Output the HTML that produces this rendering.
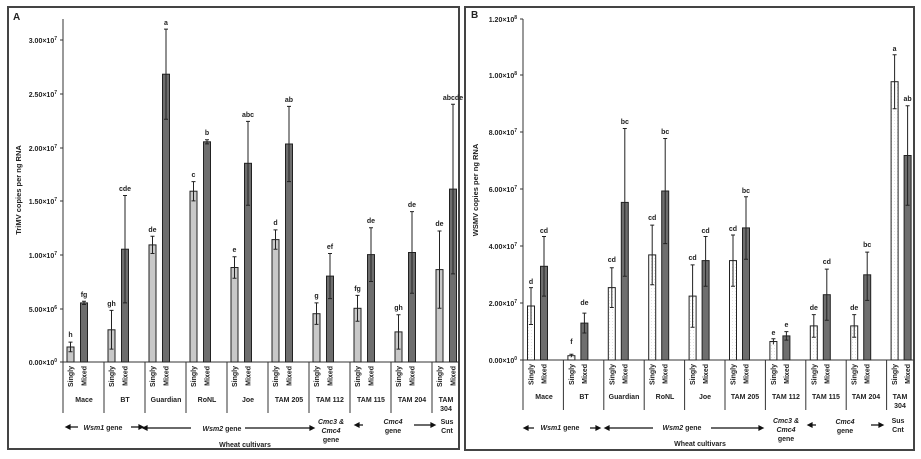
<!DOCTYPE html><html><head><meta charset="utf-8"><style>body{margin:0;background:#fff}svg{display:block}text{font-family:"Liberation Sans",sans-serif;font-weight:bold;fill:#222}</style></head><body>
<svg width="921" height="459" viewBox="0 0 921 459" xmlns="http://www.w3.org/2000/svg">
<defs><pattern id="dots" width="3" height="3" patternUnits="userSpaceOnUse"><rect width="3" height="3" fill="#fff"/><rect width="1" height="1" fill="#e4e4e4"/></pattern></defs>
<rect x="8" y="7" width="451" height="442" fill="none" stroke="#444" stroke-width="2"/>
<rect x="465" y="7" width="449" height="443" fill="none" stroke="#444" stroke-width="2"/>
<text x="13" y="20" font-size="10">A</text><text x="471" y="18" font-size="10">B</text>
<g stroke="#333" stroke-width="1" fill="none">
<path d="M63 19V413M63 362H459"/>
<path d="M60 40h3M60 94h3M60 148h3M60 201h3M60 255h3M60 309h3M60 362h3"/>
<path d="M104 362V413M145 362V413M186 362V413M227 362V413M268 362V413M309 362V413M350 362V413M391 362V413M432 362V413"/>
</g>
<g font-size="7" text-anchor="end">
<text x="57" y="43">3.00×10<tspan font-size="5" dy="-3">7</tspan></text>
<text x="57" y="97">2.50×10<tspan font-size="5" dy="-3">7</tspan></text>
<text x="57" y="151">2.00×10<tspan font-size="5" dy="-3">7</tspan></text>
<text x="57" y="204">1.50×10<tspan font-size="5" dy="-3">7</tspan></text>
<text x="57" y="258">1.00×10<tspan font-size="5" dy="-3">7</tspan></text>
<text x="57" y="312">5.00×10<tspan font-size="5" dy="-3">6</tspan></text>
<text x="57" y="365">0.00×10<tspan font-size="5" dy="-3">0</tspan></text>
</g>
<text transform="translate(21,190) rotate(-90)" font-size="7.5" text-anchor="middle">TriMV copies per ng RNA</text>
<g stroke="#222" stroke-width="1">
<g fill="#c8c8c8">
<rect x="67" y="347" width="7" height="15"/><rect x="108" y="329.8" width="7" height="32.2"/><rect x="149" y="244.9" width="7" height="117.1"/><rect x="190" y="191.2" width="7" height="170.8"/><rect x="231" y="267.5" width="7" height="94.5"/><rect x="272" y="239.6" width="7" height="122.4"/><rect x="313" y="313.7" width="7" height="48.3"/><rect x="354" y="308.3" width="7" height="53.7"/><rect x="395" y="331.9" width="7" height="30.1"/><rect x="436" y="269.6" width="7" height="92.4"/>
</g>
<g fill="#6e6e6e">
<rect x="80.5" y="302.9" width="7" height="59.1"/><rect x="121.5" y="249.2" width="7" height="112.8"/><rect x="162.5" y="74.2" width="7" height="287.8"/><rect x="203.5" y="141.8" width="7" height="220.2"/><rect x="244.5" y="163.3" width="7" height="198.7"/><rect x="285.5" y="144" width="7" height="218"/><rect x="326.5" y="276.1" width="7" height="85.9"/><rect x="367.5" y="254.6" width="7" height="107.4"/><rect x="408.5" y="252.5" width="7" height="109.5"/><rect x="449.5" y="189.1" width="7" height="172.9"/>
</g>
<path fill="none" d="M70.5 342.1V351.8M68.5 342.1h4M68.5 351.8h4M84 301.3V304.5M82 301.3h4M82 304.5h4M111.5 310.4V349.1M109.5 310.4h4M109.5 349.1h4M125 195.5V302.9M123 195.5h4M123 302.9h4M152.5 236.3V253.5M150.5 236.3h4M150.5 253.5h4M166 29.1V119.3M164 29.1h4M164 119.3h4M193.5 181.6V200.9M191.5 181.6h4M191.5 200.9h4M207 139.7V143.9M205 139.7h4M205 143.9h4M234.5 256.7V278.2M232.5 256.7h4M232.5 278.2h4M248 121.4V205.2M246 121.4h4M246 205.2h4M275.5 229.9V249.2M273.5 229.9h4M273.5 249.2h4M289 106.4V181.6M287 106.4h4M287 181.6h4M316.5 302.9V324.4M314.5 302.9h4M314.5 324.4h4M330 253.5V298.6M328 253.5h4M328 298.6h4M357.5 295.4V321.2M355.5 295.4h4M355.5 321.2h4M371 227.8V281.5M369 227.8h4M369 281.5h4M398.5 314.7V349.1M396.5 314.7h4M396.5 349.1h4M412 211.6V293.3M410 211.6h4M410 293.3h4M439.5 231V308.3M437.5 231h4M437.5 308.3h4M453 104.2V273.9M451 104.2h4M451 273.9h4"/>
</g>
<g font-size="7" text-anchor="middle">
<text x="70.5" y="337">h</text><text x="84" y="297">fg</text><text x="111.5" y="306">gh</text><text x="125" y="191">cde</text><text x="152.5" y="232">de</text><text x="166" y="25">a</text><text x="193.5" y="177">c</text><text x="207" y="135">b</text><text x="234.5" y="252">e</text><text x="248" y="117">abc</text><text x="275.5" y="225">d</text><text x="289" y="102">ab</text><text x="316.5" y="298">g</text><text x="330" y="249">ef</text><text x="357.5" y="291">fg</text><text x="371" y="223">de</text><text x="398.5" y="310">gh</text><text x="412" y="207">de</text><text x="439.5" y="226">de</text><text x="453" y="100">abcde</text>
</g>
<g font-size="7" text-anchor="end">
<text transform="translate(73,366) rotate(-90)">Singly</text><text transform="translate(86.5,366) rotate(-90)">Mixed</text>
<text transform="translate(114,366) rotate(-90)">Singly</text><text transform="translate(127.5,366) rotate(-90)">Mixed</text>
<text transform="translate(155,366) rotate(-90)">Singly</text><text transform="translate(168.5,366) rotate(-90)">Mixed</text>
<text transform="translate(196,366) rotate(-90)">Singly</text><text transform="translate(209.5,366) rotate(-90)">Mixed</text>
<text transform="translate(237,366) rotate(-90)">Singly</text><text transform="translate(250.5,366) rotate(-90)">Mixed</text>
<text transform="translate(278,366) rotate(-90)">Singly</text><text transform="translate(291.5,366) rotate(-90)">Mixed</text>
<text transform="translate(319,366) rotate(-90)">Singly</text><text transform="translate(332.5,366) rotate(-90)">Mixed</text>
<text transform="translate(360,366) rotate(-90)">Singly</text><text transform="translate(373.5,366) rotate(-90)">Mixed</text>
<text transform="translate(401,366) rotate(-90)">Singly</text><text transform="translate(414.5,366) rotate(-90)">Mixed</text>
<text transform="translate(442,366) rotate(-90)">Singly</text><text transform="translate(455.5,366) rotate(-90)">Mixed</text>
</g>
<g font-size="7" text-anchor="middle">
<text x="84" y="402">Mace</text><text x="125" y="402">BT</text><text x="166" y="402">Guardian</text><text x="207" y="402">RoNL</text><text x="248" y="402">Joe</text><text x="289" y="402">TAM 205</text><text x="330" y="402">TAM 112</text><text x="371" y="402">TAM 115</text><text x="412" y="402">TAM 204</text><text x="446" y="402">TAM</text><text x="446" y="411">304</text>
<text x="103" y="430"><tspan font-style="italic">Wsm1</tspan> gene</text>
<text x="222" y="431"><tspan font-style="italic">Wsm2</tspan> gene</text>
<text x="331" y="424" font-style="italic">Cmc3 &amp;</text><text x="331" y="433" font-style="italic">Cmc4</text><text x="331" y="442">gene</text>
<text x="393" y="424" font-style="italic">Cmc4</text><text x="393" y="433">gene</text>
<text x="447" y="424">Sus</text><text x="447" y="433">Cnt</text>
<text x="245" y="447">Wheat cultivars</text>
</g>
<g stroke="#111" stroke-width="1.2" fill="#111">
<path d="M68 427h10M131 427h10M146 428h45M245 428h68M357 425h6M414 425h20"/>
<path d="M66 427l4-2v4zM143 427l-4-2v4zM143 428l4-2v4zM314 428l-4-2v4zM355 425l4-2v4zM435 425l-4-2v4z"/>
</g>
<g stroke="#333" stroke-width="1" fill="none">
<path d="M523 19V410M523 360H914"/>
<path d="M520 19h3M520 75h3M520 132h3M520 189h3M520 246h3M520 303h3M520 360h3"/>
<path d="M563.4 360V410M603.8 360V410M644.2 360V410M684.6 360V410M725 360V410M765.4 360V410M805.8 360V410M846.2 360V410M886.6 360V410"/>
</g>
<g font-size="7" text-anchor="end">
<text x="517" y="22">1.20×10<tspan font-size="5" dy="-3">8</tspan></text>
<text x="517" y="78">1.00×10<tspan font-size="5" dy="-3">8</tspan></text>
<text x="517" y="135">8.00×10<tspan font-size="5" dy="-3">7</tspan></text>
<text x="517" y="192">6.00×10<tspan font-size="5" dy="-3">7</tspan></text>
<text x="517" y="249">4.00×10<tspan font-size="5" dy="-3">7</tspan></text>
<text x="517" y="306">2.00×10<tspan font-size="5" dy="-3">7</tspan></text>
<text x="517" y="363">0.00×10<tspan font-size="5" dy="-3">0</tspan></text>
</g>
<text transform="translate(478,190) rotate(-90)" font-size="7.5" text-anchor="middle">WSMV copies per ng RNA</text>
<g stroke="#222" stroke-width="1">
<g fill="url(#dots)">
<rect x="527.5" y="306" width="7" height="54"/><rect x="567.9" y="355.7" width="7" height="4.3"/><rect x="608.3" y="287.6" width="7" height="72.4"/><rect x="648.7" y="254.9" width="7" height="105.1"/><rect x="689.1" y="296.1" width="7" height="63.9"/><rect x="729.5" y="260.6" width="7" height="99.4"/><rect x="769.9" y="341.5" width="7" height="18.5"/><rect x="810.3" y="325.9" width="7" height="34.1"/><rect x="850.7" y="325.9" width="7" height="34.1"/><rect x="891.1" y="81.7" width="7" height="278.3"/>
</g>
<g fill="#6e6e6e">
<rect x="540.5" y="266.3" width="7" height="93.7"/><rect x="580.9" y="323.1" width="7" height="36.9"/><rect x="621.3" y="202.4" width="7" height="157.6"/><rect x="661.7" y="191" width="7" height="169"/><rect x="702.1" y="260.6" width="7" height="99.4"/><rect x="742.5" y="227.9" width="7" height="132.1"/><rect x="782.9" y="335.9" width="7" height="24.1"/><rect x="823.3" y="294.7" width="7" height="65.3"/><rect x="863.7" y="274.8" width="7" height="85.2"/><rect x="904.1" y="155.5" width="7" height="204.5"/>
</g>
<path fill="none" d="M531 287.6V324.5M529 287.6h4M529 324.5h4M544 236.5V296.1M542 236.5h4M542 296.1h4M571.4 354.3V357.2M569.4 354.3h4M584.4 313.1V333M582.4 313.1h4M582.4 333h4M611.8 267.7V307.5M609.8 267.7h4M609.8 307.5h4M624.8 128.5V276.2M622.8 128.5h4M622.8 276.2h4M652.2 225.1V284.7M650.2 225.1h4M650.2 284.7h4M665.2 138.5V243.6M663.2 138.5h4M663.2 243.6h4M692.6 264.9V327.3M690.6 264.9h4M690.6 327.3h4M705.6 236.5V286.2M703.6 236.5h4M703.6 286.2h4M733 235V286.2M731 235h4M731 286.2h4M746 196.7V259.2M744 196.7h4M744 259.2h4M773.4 338.7V344.4M771.4 338.7h4M786.4 331.6V340.1M784.4 331.6h4M784.4 340.1h4M813.8 314.6V337.3M811.8 314.6h4M811.8 337.3h4M826.8 269.1V320.2M824.8 269.1h4M824.8 320.2h4M854.2 314.6V337.3M852.2 314.6h4M852.2 337.3h4M867.2 252.1V300.4M865.2 252.1h4M865.2 300.4h4M894.6 54.7V108.7M892.6 54.7h4M892.6 108.7h4M907.6 105.8V205.2M905.6 105.8h4M905.6 205.2h4"/>
</g>
<g font-size="7" text-anchor="middle">
<text x="531" y="284">d</text><text x="544" y="233">cd</text><text x="571.4" y="344">f</text><text x="584.4" y="305">de</text><text x="611.8" y="262">cd</text><text x="624.8" y="124">bc</text><text x="652.2" y="220">cd</text><text x="665.2" y="134">bc</text><text x="692.6" y="260">cd</text><text x="705.6" y="233">cd</text><text x="733" y="231">cd</text><text x="746" y="193">bc</text><text x="773.4" y="335">e</text><text x="786.4" y="327">e</text><text x="813.8" y="310">de</text><text x="826.8" y="264">cd</text><text x="854.2" y="310">de</text><text x="867.2" y="247">bc</text><text x="894.6" y="51">a</text><text x="907.6" y="101">ab</text>
</g>
<g font-size="7" text-anchor="end">
<text transform="translate(533.5,364) rotate(-90)">Singly</text><text transform="translate(546.5,364) rotate(-90)">Mixed</text>
<text transform="translate(573.9,364) rotate(-90)">Singly</text><text transform="translate(586.9,364) rotate(-90)">Mixed</text>
<text transform="translate(614.3,364) rotate(-90)">Singly</text><text transform="translate(627.3,364) rotate(-90)">Mixed</text>
<text transform="translate(654.7,364) rotate(-90)">Singly</text><text transform="translate(667.7,364) rotate(-90)">Mixed</text>
<text transform="translate(695.1,364) rotate(-90)">Singly</text><text transform="translate(708.1,364) rotate(-90)">Mixed</text>
<text transform="translate(735.5,364) rotate(-90)">Singly</text><text transform="translate(748.5,364) rotate(-90)">Mixed</text>
<text transform="translate(775.9,364) rotate(-90)">Singly</text><text transform="translate(788.9,364) rotate(-90)">Mixed</text>
<text transform="translate(816.3,364) rotate(-90)">Singly</text><text transform="translate(829.3,364) rotate(-90)">Mixed</text>
<text transform="translate(856.7,364) rotate(-90)">Singly</text><text transform="translate(869.7,364) rotate(-90)">Mixed</text>
<text transform="translate(897.1,364) rotate(-90)">Singly</text><text transform="translate(910.1,364) rotate(-90)">Mixed</text>
</g>
<g font-size="7" text-anchor="middle">
<text x="544" y="399">Mace</text><text x="584" y="399">BT</text><text x="624" y="399">Guardian</text><text x="665" y="399">RoNL</text><text x="705" y="399">Joe</text><text x="745" y="399">TAM 205</text><text x="786" y="399">TAM 112</text><text x="826" y="399">TAM 115</text><text x="866" y="399">TAM 204</text><text x="900" y="399">TAM</text><text x="900" y="408">304</text>
<text x="560" y="430"><tspan font-style="italic">Wsm1</tspan> gene</text>
<text x="682" y="430"><tspan font-style="italic">Wsm2</tspan> gene</text>
<text x="786" y="423" font-style="italic">Cmc3 &amp;</text><text x="786" y="432" font-style="italic">Cmc4</text><text x="786" y="441">gene</text>
<text x="845" y="424" font-style="italic">Cmc4</text><text x="845" y="433">gene</text>
<text x="898" y="423">Sus</text><text x="898" y="432">Cnt</text>
<text x="700" y="446">Wheat cultivars</text>
</g>
<g stroke="#111" stroke-width="1.2" fill="#111">
<path d="M526 428h8M590 428h8M607 428h46M711 428h50M810 425h6M871 425h10"/>
<path d="M524 428l4-2v4zM600 428l-4-2v4zM605 428l4-2v4zM763 428l-4-2v4zM808 425l4-2v4zM883 425l-4-2v4z"/>
</g>
</svg>
</body></html>
